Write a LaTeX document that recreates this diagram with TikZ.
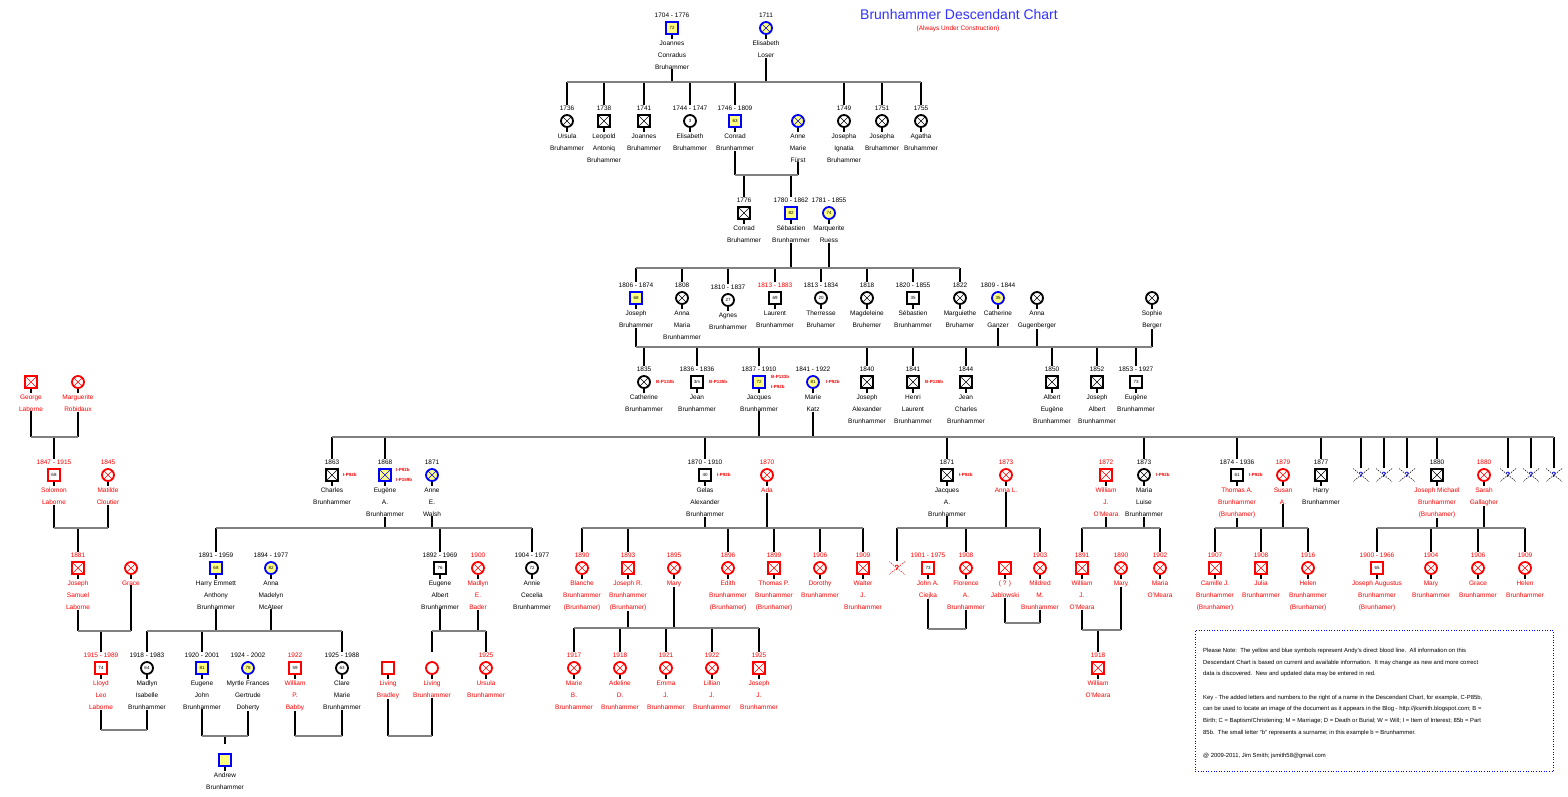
\documentclass[tikz,border=0pt]{standalone}
\usepackage{fontspec}
\setmainfont{Liberation Sans}
\usetikzlibrary{positioning}

\definecolor{lineblue}{RGB}{0,0,255}
\definecolor{lineyel}{RGB}{255,255,128}
\definecolor{bargray}{RGB}{128,128,128}
\definecolor{titleblue}{RGB}{51,51,255}

\tikzset{
	sym/.style={minimum size=12pt, inner sep=0pt, line width=1.8pt, fill=white, font=\fontsize{4.5}{5}\selectfont,
		append after command={(\tikzlastnode.south) edge[stub] ++(0,4)}},
	sq/.style={sym, rectangle, draw},
	ci/.style={sym, circle, draw},
	xx/.style={path picture={\draw[line width=.5pt,#1] (path picture bounding box.north west) -- (path picture bounding box.south east) (path picture bounding box.north east) -- (path picture bounding box.south west);}},
	xx/.default=black,
	dl/.style={draw=lineblue, fill=lineyel},
	rs/.style={draw=red},
	bx/.style={xx},
	rx/.style={rs, xx=red},
	dx/.style={dl, xx=lineblue},
	pdate/.style={inner sep=0pt, minimum width=2pt, text height=5pt, text depth=.5pt, font=\fontsize{6.5}{8}\selectfont},
	pname/.style={inner sep=0pt, align=center, font=\fontsize{6.5}{12}\selectfont},
	ref/.style={inner sep=0pt, text=red, font=\bfseries\fontsize{4.5}{5}\selectfont},
	qm/.style={minimum width=16pt, minimum height=13pt, inner sep=0pt, text=lineblue, font=\bfseries\fontsize{7.5}{8}\selectfont,
		path picture={\draw[#1, line width=.5pt, dash pattern=on 1.5pt off 1pt] (path picture bounding box.north west) -- (path picture bounding box.south east) (path picture bounding box.north east) -- (path picture bounding box.south west);}},
	qm/.default=black,
	drop/.style={line width=2pt},
	bar/.style={line width=2pt, draw=bargray},
	stub/.style={line width=1.5pt},
	notebox/.style={draw=lineblue, line width=.8pt, dash pattern=on .8pt off 1.8pt, minimum width=358pt, minimum height=141pt, inner sep=0pt},
	notetext/.style={inner sep=0pt, align=left, font=\fontsize{5.9}{11.7}\selectfont},
}

\newcommand{\pers}[8]{%
	\node[#4] (#1) at (#2,#3) {#5};
	\node[pdate,#8] (#1-d) [above=3pt of #1] {#6};
	\node[pname,#8] (#1-n) [below=5.5pt of #1] {#7};}
\newcommand{\sibline}[6]{%
	\coordinate (#1) at (0,#2);
	\foreach \who in {#3} {\draw[drop] (\who-n) -- (\who-n |- #1);}
	\foreach \who in {#4} {\draw[drop] (\who-d) -- (\who-d |- #1);}
	\draw[bar] (#5 |- #1) -- (#6 |- #1);}
\newcommand{\wedline}[4]{%
	\coordinate (#1) at (0,#2);
	\draw[drop] (#3-n) -- (#3-n |- #1);
	\draw[drop] (#4-n) -- (#4-n |- #1);
	\draw[bar] (#3 |- #1) -- (#4 |- #1);}

\begin{document}
\begin{tikzpicture}[x=1pt,y=-1pt]
	\useasboundingbox (0,0) rectangle (1568,796);
	\fill[white] (0,0) rectangle (1568,796);

	\node[text=titleblue, font=\fontsize{14}{16}\selectfont, inner sep=0pt] (title) at (959,14) {Brunhammer Descendant Chart};
	\node[text=red, font=\fontsize{6.5}{8}\selectfont, inner sep=0pt] (subtitle) at (958,29) {(Always Under Construction)};

	\pers{jc}{672}{28}{sq,dl}{72}{1704 - 1776}{Joannes\\Conradus\\Bruhammer}{}
	\pers{el}{766}{28}{ci,dx}{}{1711}{Elisabeth\\Loser}{}

	\pers{ur}{567}{121}{ci,bx}{}{1736}{Ursula\\Bruhammer}{}
	\pers{lp}{604}{121}{sq,bx}{}{1738}{Leopold\\Antoniq\\Bruhammer}{}
	\pers{jn}{644}{121}{sq,bx}{}{1741}{Joannes\\Bruhammer}{}
	\pers{eb}{690}{121}{ci}{3}{1744 - 1747}{Elisabeth\\Bruhammer}{}
	\pers{cr}{735}{121}{sq,dl}{63}{1746 - 1809}{Conrad\\Brunhammer}{}
	\pers{am}{798}{121}{ci,dx}{}{}{Anne\\Marie\\Fürst}{}
	\pers{ji}{844}{121}{ci,bx}{}{1749}{Josepha\\Ignatia\\Bruhammer}{}
	\pers{jb}{882}{121}{ci,bx}{}{1751}{Josepha\\Bruhammer}{}
	\pers{ab}{921}{121}{ci,bx}{}{1755}{Agatha\\Bruhammer}{}

	\pers{cb}{744}{213}{sq,bx}{}{1776}{Conrad\\Bruhammer}{}
	\pers{sb}{791}{213}{sq,dl}{82}{1780 - 1862}{Sébastien\\Brunhammer}{}
	\pers{mr}{829}{213}{ci,dl}{74}{1781 - 1855}{Marquerite\\Ruess}{}

	\pers{jo}{636}{298}{sq,dl}{68}{1806 - 1874}{Joseph\\Bruhammer}{}
	\pers{ma}{682}{298}{ci,bx}{}{1808}{Anna\\Maria\\Brunhammer}{}
	\pers{ag}{728}{300}{ci}{27}{1810 - 1837}{Agnes\\Brunhammer}{}
	\pers{la}{775}{298}{sq}{69}{\color{red}1813 - 1883}{Laurent\\Brunhammer}{}
	\pers{th}{821}{298}{ci}{20}{1813 - 1834}{Therresse\\Bruhamer}{}
	\pers{mg}{867}{298}{ci,bx}{}{1818}{Magdeleine\\Bruhemer}{}
	\pers{sc}{913}{298}{sq}{35}{1820 - 1855}{Sébastien\\Brunhammer}{}
	\pers{mq}{960}{298}{ci,bx}{}{1822}{Marguiethe\\Bruhamer}{}
	\pers{cg}{998}{298}{ci,dl}{35}{1809 - 1844}{Catherine\\Ganzer}{}
	\pers{gu}{1037}{298}{ci,bx}{}{}{Anna\\Gugenberger}{}
	\pers{so}{1152}{298}{ci,bx}{}{}{Sophie\\Berger}{}

	\pers{ca}{644}{382}{ci,bx}{}{1835}{Catherine\\Brunhammer}{}
	\pers{je}{697}{382}{sq}{3m}{1836 - 1836}{Jean\\Brunhammer}{}
	\pers{jq}{759}{382}{sq,dl}{72}{1837 - 1910}{Jacques\\Brunhammer}{}
	\pers{mk}{813}{382}{ci,dl}{81}{1841 - 1922}{Marie\\Katz}{}
	\pers{jx}{867}{382}{sq,bx}{}{1840}{Joseph\\Alexander\\Brunhammer}{}
	\pers{hl}{913}{382}{sq,bx}{}{1841}{Henri\\Laurent\\Brunhammer}{}
	\pers{jh}{966}{382}{sq,bx}{}{1844}{Jean\\Charles\\Brunhammer}{}
	\pers{ae}{1052}{382}{sq,bx}{}{1850}{Albert\\Eugène\\Brunhammer}{}
	\pers{ja}{1097}{382}{sq,bx}{}{1852}{Joseph\\Albert\\Brunhammer}{}
	\pers{eu}{1136}{382}{sq}{73}{1853 - 1927}{Eugène\\Brunhammer}{}
	\pers{gl}{31}{382}{sq,rx}{}{}{George\\Laborne}{red}
	\pers{mrb}{78}{382}{ci,rx}{}{}{Marguerite\\Robidaux}{red}

	\pers{sl}{54}{475}{sq,rs}{68}{1847 - 1915}{Solomon\\Laborne}{red}
	\pers{mc}{108}{475}{ci,rx}{}{1845}{Matilde\\Cloutier}{red}
	\pers{ch}{332}{475}{sq,bx}{}{1863}{Charles\\Brunhammer}{}
	\pers{ea}{385}{475}{sq,dx}{}{1868}{Eugène\\A.\\Brunhammer}{}
	\pers{aw}{432}{475}{ci,dx}{}{1871}{Anne\\E.\\Walsh}{}
	\pers{ga}{705}{475}{sq}{40}{1870 - 1910}{Gelas\\Alexander\\Brunhammer}{}
	\pers{ad}{767}{475}{ci,rx}{}{1870}{Ada}{red}
	\pers{jaa}{947}{475}{sq,bx}{}{1871}{Jacques\\A.\\Brunhammer}{}
	\pers{al}{1006}{475}{ci,rx}{}{1873}{Anna L.}{red}
	\pers{wo}{1106}{475}{sq,rx}{}{1872}{William\\J.\\O'Meara}{red}
	\pers{ml}{1144}{475}{ci,bx}{}{1873}{Maria\\Luise\\Brunhammer}{}
	\pers{ta}{1237}{475}{sq}{61}{\color{black}1874 - 1936}{Thomas A.\\Brunhammer\\(Brunhamer)}{red}
	\pers{sa}{1283}{475}{ci,rx}{}{1879}{Susan\\A.}{red}
	\pers{hb}{1321}{475}{sq,bx}{}{1877}{Harry\\Brunhammer}{}
	\pers{jm}{1437}{475}{sq,bx}{}{\color{black}1880}{Joseph Michael\\Brunhammer\\(Brunhamer)}{red}
	\pers{sg}{1484}{475}{ci,rx}{}{1880}{Sarah\\Gallagher}{red}
	\node[qm] (q1) at (1361,475) {?};
	\node[qm] (q2) at (1384,475) {?};
	\node[qm] (q3) at (1407,475) {?};
	\node[qm] (q4) at (1508,475) {?};
	\node[qm] (q5) at (1531,475) {?};
	\node[qm] (q6) at (1554,475) {?};

	\pers{js}{78}{568}{sq,rx}{}{1881}{Joseph\\Samuel\\Laborne}{red}
	\pers{gr}{131}{568}{ci,rx}{}{}{Grace}{red}
	\pers{he}{216}{568}{sq,dl}{68}{1891 - 1959}{Harry Emmett\\Anthony\\Brunhammer}{}
	\pers{an}{271}{568}{ci,dl}{82}{1894 - 1977}{Anna\\Madelyn\\McAteer}{}
	\pers{eal}{440}{568}{sq}{76}{1892 - 1969}{Eugene\\Albert\\Brunhammer}{}
	\pers{mb}{478}{568}{ci,rx}{}{1900}{Madlyn\\E.\\Bader}{red}
	\pers{ac}{532}{568}{ci}{72}{1904 - 1977}{Annie\\Cecelia\\Brunhammer}{}
	\pers{bl}{582}{568}{ci,rx}{}{1890}{Blanche\\Brunhammer\\(Brunhamer)}{red}
	\pers{jr}{628}{568}{sq,rx}{}{1893}{Joseph R.\\Brunhammer\\(Brunhamer)}{red}
	\pers{my}{674}{568}{ci,rx}{}{1895}{Mary}{red}
	\pers{ed}{728}{568}{ci,rx}{}{1896}{Edith\\Brunhammer\\(Brunhamer)}{red}
	\pers{tp}{774}{568}{sq,rx}{}{1899}{Thomas P.\\Brunhammer\\(Brunhamer)}{red}
	\pers{dr}{820}{568}{ci,rx}{}{1906}{Dorothy\\Brunhammer}{red}
	\pers{wj}{863}{568}{sq,rx}{}{1909}{Walter\\J.\\Brunhammer}{red}
	\node[qm=red, text=red] (q7) at (897,568) {?};
	\pers{jci}{928}{568}{sq,rs}{73}{1901 - 1975}{John A.\\Ciejka}{red}
	\pers{fl}{966}{568}{ci,rx}{}{1908}{Florence\\A.\\Brunhammer}{red}
	\pers{jw}{1005}{568}{sq,rx}{}{}{( ? )\\Jablowski}{red}
	\pers{mm}{1040}{568}{ci,rx}{}{1903}{Mildred\\M.\\Brunhammer}{red}
	\pers{wjo}{1082}{568}{sq,rx}{}{1891}{William\\J.\\O'Meara}{red}
	\pers{mo}{1121}{568}{ci,rx}{}{1890}{Mary}{red}
	\pers{mao}{1160}{568}{ci,rx}{}{1902}{Maria\\O'Meara}{red}
	\pers{cj}{1215}{568}{sq,rx}{}{1907}{Camille J.\\Brunhammer\\(Brunhamer)}{red}
	\pers{ju}{1261}{568}{sq,rx}{}{1908}{Julia\\Brunhammer}{red}
	\pers{hn}{1308}{568}{ci,rx}{}{1916}{Helen\\Brunhammer\\(Brunhamer)}{red}
	\pers{jag}{1377}{568}{sq,rs}{65}{1900 - 1966}{Joseph Augustus\\Brunhammer\\(Brunhamer)}{red}
	\pers{mry}{1431}{568}{ci,rx}{}{1904}{Mary\\Brunhammer}{red}
	\pers{gc}{1478}{568}{ci,rx}{}{1906}{Grace\\Brunhammer}{red}
	\pers{hm}{1525}{568}{ci,rx}{}{1909}{Helen\\Brunhammer}{red}

	\pers{ll}{101}{668}{sq,rs}{74}{1915 - 1989}{Lloyd\\Leo\\Laborne}{red}
	\pers{mi}{147}{668}{ci}{64}{1918 - 1983}{Madlyn\\Isabelle\\Brunhammer}{}
	\pers{ej}{202}{668}{sq,dl}{81}{1920 - 2001}{Eugene\\John\\Brunhammer}{}
	\pers{mf}{248}{668}{ci,dl}{78}{1924 - 2002}{Myrtle Frances\\Gertrude\\Doherty}{}
	\pers{wb}{295}{668}{sq,rs}{59}{1922}{William\\P.\\Babby}{red}
	\pers{cm}{342}{668}{ci}{63}{1925 - 1988}{Clare\\Marie\\Brunhammer}{}
	\pers{lb}{388}{668}{sq,rs}{}{}{Living\\Bradley}{red}
	\pers{lv}{432}{668}{ci,rs}{}{}{Living\\Brunhammer}{red}
	\pers{us}{486}{668}{ci,rx}{}{1925}{Ursula\\Brunhammer}{red}
	\pers{mab}{574}{668}{ci,rx}{}{1917}{Marie\\B.\\Brunhammer}{red}
	\pers{adl}{620}{668}{ci,rx}{}{1918}{Adeline\\D.\\Brunhammer}{red}
	\pers{em}{666}{668}{ci,rx}{}{1921}{Emma\\J.\\Brunhammer}{red}
	\pers{li}{712}{668}{ci,rx}{}{1922}{Lillian\\J.\\Brunhammer}{red}
	\pers{jj}{759}{668}{sq,rx}{}{1925}{Joseph\\J.\\Brunhammer}{red}
	\pers{wom}{1098}{668}{sq,rx}{}{1918}{William\\O'Meara}{red}
	\pers{anb}{225}{760}{sq,dl}{}{}{Andrew\\Brunhammer}{}

	\foreach \qq in {q1,q2,q3,q4,q5,q6,q7} {\coordinate (\qq-d) at (\qq.north);}

	\node[ref, right=5pt of ca] (ca-r) {B-P134b};
	\node[ref, right=5pt of je] (je-r) {B-P135b};
	\node[ref, right=5pt of jq, yshift=5pt] (jq-r) {B-P133b};
	\node[ref, right=5pt of jq, yshift=-5pt] (jq-s) {I-P92b};
	\node[ref, right=6pt of mk] (mk-r) {I-P92b};
	\node[ref, right=5pt of hl] (hl-r) {B-P136b};
	\node[ref, right=4pt of ch] (ch-r) {I-P92b};
	\node[ref, right=4pt of ea, yshift=5pt] (ea-r) {I-P92b};
	\node[ref, right=4pt of ea, yshift=-5pt] (ea-s) {I-P159b};
	\node[ref, right=5pt of ga] (ga-r) {I-P92b};
	\node[ref, right=5pt of jaa] (jaa-r) {I-P92b};
	\node[ref, right=5pt of ml] (ml-r) {I-P92b};
	\node[ref, right=5pt of ta] (ta-r) {I-P92b};

	\sibline{b0}{82}{jc,el}{ur,lp,jn,eb,cr,ji,jb,ab}{ur}{ab}
	\sibline{b1}{175}{cr,am}{cb,sb}{cr}{am}
	\sibline{b2}{268}{sb,mr}{jo,ma,ag,la,th,mg,sc,mq}{jo}{mq}
	\sibline{b3}{347}{jo,cg,gu,so}{ca,je,jq,jx,hl,jh,ae,ja,eu}{jo}{so}
	\sibline{b4}{437}{jq,mk}{ch,ea,ga,jaa,ml,ta,hb,q1,q2,q3,jm,q4,q5,q6}{ch}{q6}
	\sibline{l0}{437}{gl,mrb}{sl}{gl}{mrb}
	\sibline{l1}{528}{sl,mc}{js}{sl}{mc}
	\sibline{l2}{631}{js,gr}{ll}{js}{gr}
	\wedline{l3}{730}{ll}{mi}
	\sibline{b5}{528}{ea,aw}{he,eal,ac}{he}{ac}
	\sibline{b6}{631}{he,an}{mi,ej,cm}{mi}{cm}
	\sibline{b7}{736}{ej,mf}{anb}{ej}{mf}
	\wedline{b8}{736}{wb}{cm}
	\sibline{b9}{631}{eal,mb}{lv,us}{lv}{us}
	\wedline{b10}{736}{lb}{lv}
	\sibline{b11}{528}{ga,ad}{bl,jr,ed,tp,dr,wj}{bl}{wj}
	\sibline{b12}{628}{jr,my}{mab,adl,em,li,jj}{mab}{jj}
	\sibline{b13}{528}{jaa,al}{q7,fl,mm}{q7}{mm}
	\wedline{b14}{629}{jci}{fl}
	\wedline{b15}{623}{jw}{mm}
	\sibline{b16}{528}{wo,ml}{wjo,mao}{wjo}{mao}
	\sibline{b17}{630}{wjo,mo}{wom}{wjo}{mo}
	\sibline{b18}{528}{ta,sa}{cj,ju,hn}{cj}{hn}
	\sibline{b19}{528}{jm,sg}{jag,mry,gc,hm}{jag}{hm}

	\node[notebox, anchor=north west] (note) at (1195,630) {};
	\node[notetext, anchor=north west] (note-t) at ([xshift=8pt,yshift=-18pt]note.north west) {Please Note:\ \ The yellow and blue symbols represent Andy's direct blood line.\ \ All information on this\\
		Descendant Chart is based on current and available information.\ \ It may change as new and more correct\\
		data is discovered.\ \ New and updated data may be entered in red.\\[11.7pt]
		Key - The added letters and numbers to the right of a name in the Descendant Chart, for example, C-P85b,\\
		can be used to locate an image of the document as it appears in the Blog - http://jksmith.blogspot.com; B =\\
		Birth; C = Baptism/Christening; M = Marriage; D = Death or Burial; W = Will; I = Item of Interest; 85b = Part\\
		85b.\ \ The small letter ``b'' represents a surname; in this example b = Brunhammer.\\[11.7pt]
		@ 2009-2011, Jim Smith; jsmith58@gmail.com};
\end{tikzpicture}
\end{document}
